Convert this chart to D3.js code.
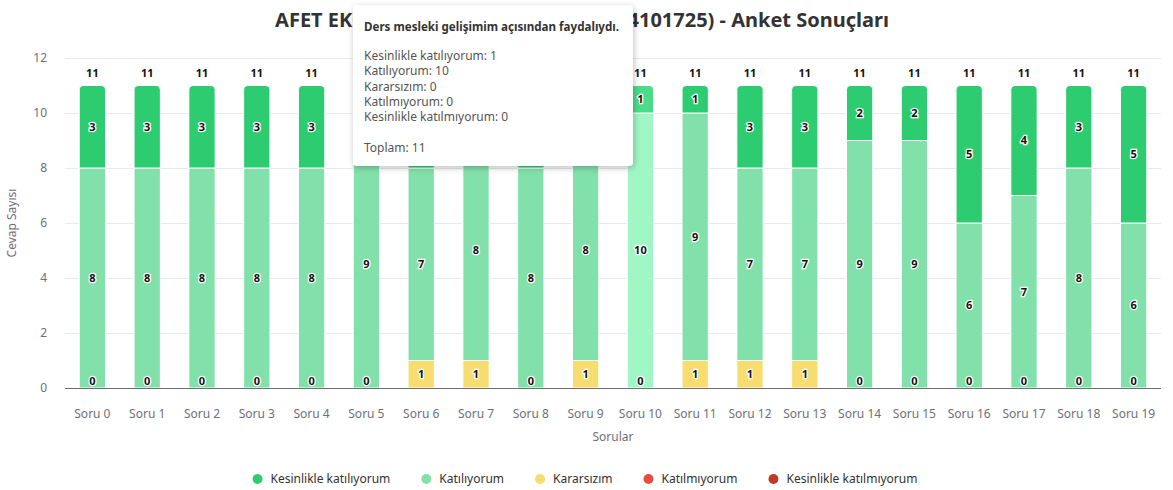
<!DOCTYPE html>
<html>
<head>
<meta charset="utf-8">
<script src="https://cdn.jsdelivr.net/npm/d3@7"></script>
<style>
  body { margin: 0; background: #fff; }
  svg { display: block; font-family: "Noto Sans", "Open Sans", sans-serif; }
</style>
</head>
<body>
<svg id="chart"></svg>
<script>
var width = 1173,
    height = 490;

// data
var categories = ["Soru 0", "Soru 1", "Soru 2", "Soru 3", "Soru 4", "Soru 5", "Soru 6", "Soru 7", "Soru 8", "Soru 9",
    "Soru 10", "Soru 11", "Soru 12", "Soru 13", "Soru 14", "Soru 15", "Soru 16", "Soru 17", "Soru 18", "Soru 19"];
var kesinlikleKatiliyorum = [3, 3, 3, 3, 3, 2, 3, 2, 3, 2, 1, 1, 3, 3, 2, 2, 5, 4, 3, 5];
var katiliyorum = [8, 8, 8, 8, 8, 9, 7, 8, 8, 8, 10, 9, 7, 7, 9, 9, 6, 7, 8, 6];
var kararsizim = [0, 0, 0, 0, 0, 0, 1, 1, 0, 1, 0, 1, 1, 1, 0, 0, 0, 0, 0, 0];
var katilmiyorum = [0, 0, 0, 0, 0, 0, 0, 0, 0, 0, 0, 0, 0, 0, 0, 0, 0, 0, 0, 0];
var kesinlikleKatilmiyorum = [0, 0, 0, 0, 0, 0, 0, 0, 0, 0, 0, 0, 0, 0, 0, 0, 0, 0, 0, 0];
var yTicks = [0, 2, 4, 6, 8, 10, 12];

var seriesNames = ["Kesinlikle katılıyorum", "Katılıyorum", "Kararsızım", "Katılmıyorum", "Kesinlikle katılmıyorum"];
var seriesValues = [kesinlikleKatiliyorum, katiliyorum, kararsizim, katilmiyorum, kesinlikleKatilmiyorum];
var colors = ["#2ecc71", "#82e0aa", "#f7dc6f", "#e74c3c", "#c0392b"];
var hoverColors = ["#4bdc89", "#a0f7c5", "#fbe88a", "#f0675a", "#d4503f"];

var title = "AFET EKONOMİSİ VE YÖNETİMİ (2024101725) - Anket Sonuçları";
var tooltipTitle = "Ders mesleki gelişimim açısından faydalıydı.";
var hovered = 10;

var margin = {top: 58, right: 12, bottom: 102, left: 65};

var svg = d3.select("#chart")
    .attr("width", width)
    .attr("height", height);

// rows for d3.stack, bottom of stack is the last series
var rows = categories.map(function (c, i) {
    var r = {cat: c, idx: i};
    seriesNames.forEach(function (n, s) { r[n] = seriesValues[s][i]; });
    return r;
});
var stackKeys = seriesNames.slice().reverse();
var stacked = d3.stack().keys(stackKeys)(rows);

var x = d3.scaleBand()
    .domain(categories)
    .range([margin.left, width - margin.right])
    .paddingInner(0.52)
    .paddingOuter(0.26);

var y = d3.scaleLinear()
    .domain([0, 12])
    .range([height - margin.bottom, margin.top]);

// grid
svg.append("g")
    .selectAll("line")
    .data(yTicks.slice(1))
    .enter()
    .append("line")
    .attr("x1", margin.left)
    .attr("x2", width - margin.right)
    .attr("y1", function (d) { return y(d) + 0.5; })
    .attr("y2", function (d) { return y(d) + 0.5; })
    .attr("stroke", "#e6e9ef");

// y axis labels
svg.append("g")
    .selectAll("text")
    .data(yTicks)
    .enter()
    .append("text")
    .attr("x", 47)
    .attr("y", function (d) { return y(d); })
    .attr("dy", "0.35em")
    .attr("text-anchor", "end")
    .attr("fill", "#6e7079")
    .attr("font-size", 12)
    .text(function (d) { return d; });

function barPath(x0, w, yTop, yBot, r) {
    r = Math.min(r, (yBot - yTop));
    return "M" + x0 + "," + yBot +
        "V" + (yTop + r) +
        "Q" + x0 + "," + yTop + " " + (x0 + r) + "," + yTop +
        "H" + (x0 + w - r) +
        "Q" + (x0 + w) + "," + yTop + " " + (x0 + w) + "," + (yTop + r) +
        "V" + yBot + "Z";
}

// bars
var topKey = stackKeys[stackKeys.length - 1];
stacked.forEach(function (layer) {
    var s = seriesNames.indexOf(layer.key);
    svg.append("g")
        .selectAll("path")
        .data(layer.filter(function (d) { return d[1] - d[0] > 0; }))
        .enter()
        .append("path")
        .attr("d", function (d) {
            var r = layer.key === topKey ? 4 : 0;
            return barPath(x(d.data.cat), x.bandwidth(), y(d[1]), y(d[0]), r);
        })
        .attr("fill", function (d) { return d.data.idx === hovered ? hoverColors[s] : colors[s]; })
        .attr("stroke", "#fff")
        .attr("stroke-width", 1);
});

// x axis line
svg.append("line")
    .attr("x1", margin.left)
    .attr("x2", width - margin.right)
    .attr("y1", y(0) + 0.5)
    .attr("y2", y(0) + 0.5)
    .attr("stroke", "#6e7079");

// x axis labels
svg.append("g")
    .selectAll("text")
    .data(categories)
    .enter()
    .append("text")
    .attr("x", function (d) { return x(d) + x.bandwidth() / 2; })
    .attr("y", y(0) + 26)
    .attr("dy", "0.35em")
    .attr("text-anchor", "middle")
    .attr("fill", "#6e7079")
    .attr("font-size", 12)
    .text(function (d) { return d; });

// segment labels
var labels = [];
stacked.forEach(function (layer) {
    layer.forEach(function (d) {
        var v = d[1] - d[0];
        if (v > 0) {
            labels.push({x: x(d.data.cat) + x.bandwidth() / 2, y: (y(d[0]) + y(d[1])) / 2, t: v});
        } else if (layer.key === "Kararsızım") {
            labels.push({x: x(d.data.cat) + x.bandwidth() / 2, y: y(0) - 7, t: 0});
        }
    });
});
rows.forEach(function (r) {
    var total = d3.sum(seriesNames, function (n) { return r[n]; });
    labels.push({x: x(r.cat) + x.bandwidth() / 2, y: y(total) - 12, t: total, plain: true});
});

svg.append("g")
    .selectAll("text")
    .data(labels)
    .enter()
    .append("text")
    .attr("x", function (d) { return d.x; })
    .attr("y", function (d) { return d.y; })
    .attr("dy", "0.35em")
    .attr("text-anchor", "middle")
    .attr("font-size", 11)
    .attr("font-weight", "bold")
    .attr("fill", "#111")
    .attr("stroke", function (d) { return d.plain ? "none" : "#fff"; })
    .attr("stroke-width", 2.5)
    .attr("paint-order", "stroke")
    .text(function (d) { return d.t; });

// axis titles
svg.append("text")
    .attr("transform", "translate(16," + (y(6)) + ") rotate(-90)")
    .attr("text-anchor", "middle")
    .attr("fill", "#6e7079")
    .attr("font-size", 12)
    .text("Cevap Sayısı");

svg.append("text")
    .attr("x", (margin.left + width - margin.right) / 2)
    .attr("y", 437)
    .attr("dy", "0.35em")
    .attr("text-anchor", "middle")
    .attr("fill", "#6e7079")
    .attr("font-size", 12)
    .text("Sorular");

// title
svg.append("text")
    .attr("x", 582)
    .attr("y", 20)
    .attr("dy", "0.35em")
    .attr("text-anchor", "middle")
    .attr("fill", "#333")
    .attr("font-size", 20)
    .attr("font-weight", "bold")
    .text(title);

// legend
var legend = svg.append("g");
var lx = 0;
seriesNames.forEach(function (n, s) {
    var item = legend.append("g").attr("transform", "translate(" + lx + ",0)");
    item.append("circle").attr("cx", 5).attr("cy", 0).attr("r", 5).attr("fill", colors[s]);
    var t = item.append("text")
        .attr("x", 18)
        .attr("dy", "0.35em")
        .attr("font-size", 12)
        .attr("fill", "#333")
        .text(n);
    lx += 18 + t.node().getComputedTextLength() + 31;
});
lx -= 31;
legend.attr("transform", "translate(" + (585 - lx / 2) + ",479)");

// tooltip for the hovered bar
var defs = svg.append("defs");
var f = defs.append("filter").attr("id", "shadow").attr("x", -0.2).attr("y", -0.2).attr("width", 1.4).attr("height", 1.4);
f.append("feDropShadow").attr("dx", 1).attr("dy", 2).attr("stdDeviation", 3).attr("flood-color", "#000").attr("flood-opacity", 0.25);

var tip = svg.append("g").attr("transform", "translate(353,5)");
tip.append("rect")
    .attr("width", 280)
    .attr("height", 161)
    .attr("rx", 4)
    .attr("fill", "#fff")
    .attr("filter", "url(#shadow)");
tip.append("text")
    .attr("x", 11)
    .attr("y", 26)
    .attr("font-size", 11.6)
    .attr("font-weight", "bold")
    .attr("fill", "#333")
    .text(tooltipTitle);
var tipLines = seriesNames.map(function (n, s) { return n + ": " + seriesValues[s][hovered]; });
tip.selectAll("text.line")
    .data(tipLines)
    .enter()
    .append("text")
    .attr("class", "line")
    .attr("x", 11)
    .attr("y", function (d, i) { return 55 + i * 15.3; })
    .attr("font-size", 12)
    .attr("fill", "#555")
    .text(function (d) { return d; });
tip.append("text")
    .attr("x", 11)
    .attr("y", 147)
    .attr("font-size", 12)
    .attr("fill", "#555")
    .text("Toplam: " + d3.sum(seriesValues, function (v) { return v[hovered]; }));
</script>
</body>
</html>
